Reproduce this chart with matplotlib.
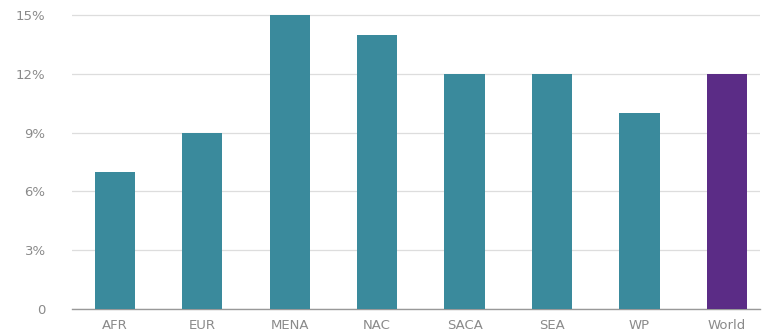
import matplotlib.pyplot as plt

regions = ['AFR', 'EUR', 'MENA', 'NAC', 'SACA', 'SEA', 'WP', 'World']
values = [7, 9, 15, 14, 12, 12, 10, 12]
y_ticks = [0, 3, 6, 9, 12, 15]
y_labels = ['0', '3%', '6%', '9%', '12%', '15%']

teal = '#3a8a9c'
purple = '#5b2c86'
colors = [purple if r == 'World' else teal for r in regions]

fig = plt.figure(figsize=(7.62, 3.35), dpi=100)
ax = fig.add_axes([0.0945, 0.078, 0.903, 0.895])

x = range(len(regions))
ax.bar(x, values, width=0.46, color=colors, zorder=3)

ax.set_xlim(-0.49, 7.38)
ax.set_ylim(0, 15.3)
ax.set_yticks(y_ticks)
ax.set_yticklabels(y_labels)
ax.set_xticks(list(x))
ax.set_xticklabels(regions)

ax.grid(axis='y', color='#dddddd', linewidth=0.9, zorder=0)
for s in ['top', 'right', 'left']:
    ax.spines[s].set_visible(False)
ax.spines['bottom'].set_color('#999999')
ax.spines['bottom'].set_linewidth(1.0)

ax.tick_params(axis='both', length=0, labelcolor='#8a8a8a', labelsize=9.5)
ax.tick_params(axis='y', pad=19)
ax.tick_params(axis='x', pad=7)
for lbl in ax.get_yticklabels():
    lbl.set_horizontalalignment('right')

plt.savefig('out.png', dpi=100)
